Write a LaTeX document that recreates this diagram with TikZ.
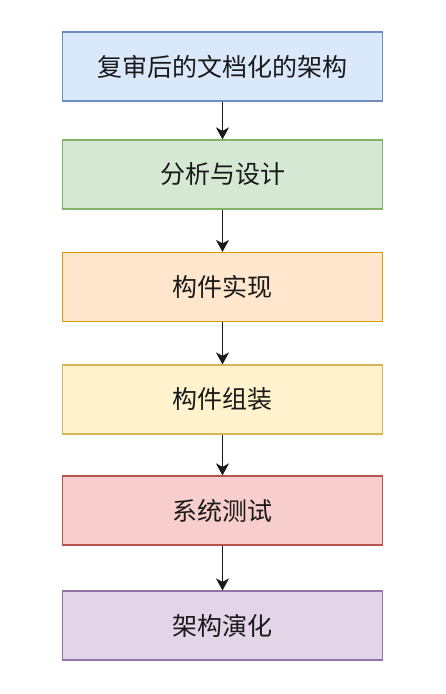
\documentclass[tikz,border=0pt]{standalone}
\usepackage{fontspec}
\newfontfamily\cjk{Noto Sans CJK SC}
\usetikzlibrary{arrows.meta}
\definecolor{f1}{HTML}{DAE8FC}\definecolor{d1}{HTML}{6C8EBF}
\definecolor{f2}{HTML}{D5E8D4}\definecolor{d2}{HTML}{82B366}
\definecolor{f3}{HTML}{FFE6CC}\definecolor{d3}{HTML}{D79B00}
\definecolor{f4}{HTML}{FFF2CC}\definecolor{d4}{HTML}{D6B656}
\definecolor{f5}{HTML}{F8CECC}\definecolor{d5}{HTML}{B85450}
\definecolor{f6}{HTML}{E1D5E7}\definecolor{d6}{HTML}{9673A6}
\tikzset{
  stepbox/.style={draw, line width=1.2pt, minimum width=320pt, minimum height=69pt,
    inner sep=0pt, font=\cjk\fontsize{25pt}{29pt}\selectfont, text=black!90},
  flowarrow/.style={draw=black!90, line width=1.4pt, -{Stealth[length=12pt,width=13pt,inset=3.5pt]}}
}
\begin{document}
\begin{tikzpicture}[x=1pt,y=-1pt]
\useasboundingbox (0,0) rectangle (446,694);
\fill[white] (0,0) rectangle (446,694);
\node[stepbox, fill=f1, draw=d1] (a) at (222.5,66.5) {复审后的文档化的架构};
\node[stepbox, fill=f2, draw=d2] (b) at (222.5,174.5) {分析与设计};
\node[stepbox, fill=f3, draw=d3] (c) at (222.5,287) {构件实现};
\node[stepbox, fill=f4, draw=d4] (d) at (222.5,399.5) {构件组装};
\node[stepbox, fill=f5, draw=d5] (e) at (222.5,510.5) {系统测试};
\node[stepbox, fill=f6, draw=d6] (f) at (222.5,625.5) {架构演化};
\draw[flowarrow] (a) -- (b);
\draw[flowarrow] (b) -- (c);
\draw[flowarrow] (c) -- (d);
\draw[flowarrow] (d) -- (e);
\draw[flowarrow] (e) -- (f);
\end{tikzpicture}
\end{document}
